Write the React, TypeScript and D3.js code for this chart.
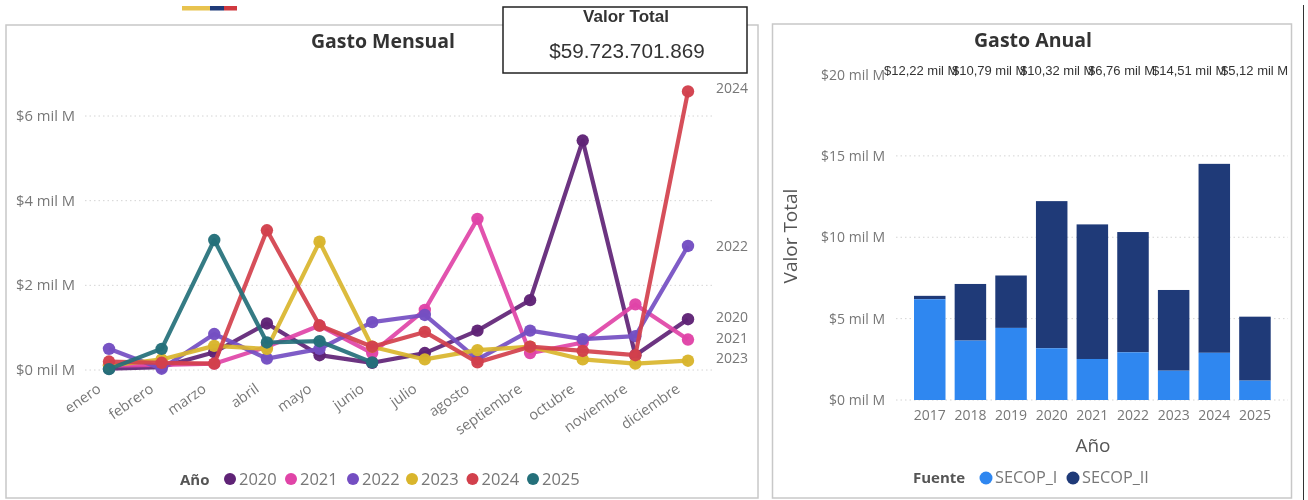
import React from "react";
import * as d3 from "d3";

const months = ["enero","febrero","marzo","abril","mayo","junio","julio","agosto","septiembre","octubre","noviembre","diciembre"];
const lineYears = ["2020","2021","2022","2023","2024","2025"];
const lineColors = ["#5f2376","#e044a7","#744ec2","#d9b52c","#d2404c","#24707a"];
const v2020 = [0.03,0.07,0.42,1.1,0.35,0.17,0.4,0.93,1.65,5.42,0.35,1.2];
const v2021 = [0.1,0.12,0.15,0.55,1.05,0.4,1.42,3.57,0.4,0.65,1.55,0.72];
const v2022 = [0.5,0.03,0.85,0.27,0.5,1.13,1.3,0.25,0.93,0.73,0.8,2.93];
const v2023 = [0.1,0.25,0.57,0.5,3.03,0.55,0.25,0.47,0.55,0.25,0.15,0.22];
const v2024 = [0.2,0.17,0.15,3.3,1.05,0.55,0.9,0.18,0.55,0.45,0.35,6.58];
const v2025 = [0.02,0.5,3.07,0.65,0.68,0.18];
const lineSeries = [v2020,v2021,v2022,v2023,v2024,v2025];
const endLabels = [["2024",88],["2022",246],["2020",317],["2021",338],["2023",358]] as [string,number][];
const lineTicks = [0,2,4,6];

const barYears = ["2017","2018","2019","2020","2021","2022","2023","2024","2025"];
const secop1 = [6.19,3.65,4.43,3.18,2.52,2.93,1.8,2.9,1.19];
const totals = [6.4,7.13,7.65,12.22,10.79,10.32,6.76,14.51,5.12];
const barTicks = [0,5,10,15,20];
const totalLabels = ["$12,22 mil M","$10,79 mil M","$10,32 mil M","$6,76 mil M","$14,51 mil M","$5,12 mil M"];
const totalLabelX = [884,952,1020,1088,1152,1221];

const SANS = "'Open Sans', 'Noto Sans', sans-serif";
const ARIAL = "'Liberation Sans', Arial, sans-serif";
const GREY = "#777";

export default function App() {
  const x = d3.scalePoint<string>().domain(months).range([109, 688]);
  const y = d3.scaleLinear().domain([0, 6]).range([370, 116]);
  const line = d3.line<number>().x((_, i) => x(months[i])!).y(d => y(d));
  const bx = d3.scaleBand<string>().domain(barYears).range([909.53, 1275.17]).paddingInner(0.225).paddingOuter(0.11);
  const by = d3.scaleLinear().domain([0, 20]).range([400, 74.5]);
  const legendX = [230, 291, 353, 412, 472.5, 533];
  return (
    <svg width={1308} height={500} style={{ position: "absolute", left: 0, top: 0, background: "#fff", filter: "blur(0.45px)" }} fontFamily={SANS}>
      <rect x={182} y={6} width={28} height={4.5} fill="#e8c34f" />
      <rect x={210} y={6} width={14} height={4.5} fill="#1f3a78" />
      <rect x={224} y={6} width={13} height={4.5} fill="#d0393f" />

      <rect x={6} y={25} width={752} height={473} fill="#fff" stroke="#c8c8c8" strokeWidth={1.5} />
      <rect x={772.5} y={24} width={519} height={474} fill="#fff" stroke="#c8c8c8" strokeWidth={1.5} />
      <line x1={1303.5} x2={1303.5} y1={5} y2={500} stroke="#333" strokeWidth={1} />

      <text x={383} y={48} textAnchor="middle" fontSize={19} fontWeight={700} fill="#333" textLength={144} lengthAdjust="spacingAndGlyphs">Gasto Mensual</text>
      {lineTicks.map(t => (
        <g key={t}>
          <line x1={85} x2={712} y1={y(t)} y2={y(t)} stroke="#d4d4d4" strokeDasharray="1.5 3" />
          <text x={75} y={y(t) + 5} textAnchor="end" fontSize={14} fill={GREY} textLength={59} lengthAdjust="spacingAndGlyphs">{`$${t} mil M`}</text>
        </g>
      ))}
      {months.map(m => (
        <text key={m} transform={`translate(${x(m)! - 7},${391}) rotate(-35)`} textAnchor="end" fontSize={14.5} fill={GREY}>{m}</text>
      ))}
      {lineSeries.map((vals, k) => (
        <g key={k}>
          <path d={line(vals)!} fill="none" stroke={lineColors[k]} strokeWidth={4.2} strokeLinejoin="round" opacity={0.92} />
          {vals.map((v, i) => (
            <circle key={i} cx={x(months[i])!} cy={y(v)} r={6.2} fill={lineColors[k]} opacity={0.97} />
          ))}
        </g>
      ))}
      {endLabels.map(([t, yy]) => (
        <text key={t} x={716} y={yy + 5} fontSize={14} fill={GREY}>{t}</text>
      ))}
      <text x={180} y={485} fontSize={15} fontWeight={700} fill="#555">Año</text>
      {lineYears.map((t, i) => (
        <g key={t}>
          <circle cx={legendX[i]} cy={479} r={6} fill={lineColors[i]} />
          <text x={legendX[i] + 9} y={485} fontSize={16.5} fill={GREY}>{t}</text>
        </g>
      ))}

      <rect x={503} y={7} width={244} height={66} fill="#fff" stroke="#222" strokeWidth={1.5} />
      <text x={626} y={22} textAnchor="middle" fontSize={17} fontWeight={700} fontFamily={ARIAL} fill="#333" textLength={86} lengthAdjust="spacingAndGlyphs">Valor Total</text>
      <text x={627} y={58} textAnchor="middle" fontSize={20.7} fontFamily={ARIAL} fill="#333">$59.723.701.869</text>

      <text x={1033} y={47} textAnchor="middle" fontSize={19.5} fontWeight={700} fill="#333">Gasto Anual</text>
      {barTicks.map(t => (
        <g key={t}>
          {t !== 20 && <line x1={896} x2={1288} y1={by(t)} y2={by(t)} stroke="#d4d4d4" strokeDasharray="1.5 3" />}
          <text x={885} y={by(t) + 5} textAnchor="end" fontSize={14} fill={GREY}>{`$${t} mil M`}</text>
        </g>
      ))}
      {barYears.map((yr, i) => (
        <g key={yr}>
          <rect x={bx(yr)} width={bx.bandwidth()} y={by(totals[i])} height={by(secop1[i]) - by(totals[i])} fill="#1f3a78" />
          <rect x={bx(yr)} width={bx.bandwidth()} y={by(secop1[i])} height={by(0) - by(secop1[i])} fill="#2f87f0" />
          <text x={bx(yr)! + bx.bandwidth() / 2} y={420} textAnchor="middle" fontSize={14} fill={GREY}>{yr}</text>
        </g>
      ))}
      {totalLabels.map((t, i) => (
        <text key={i} x={totalLabelX[i]} y={75} fontSize={13} fontFamily={ARIAL} fill="#333">{t}</text>
      ))}
      <text transform="translate(797,236) rotate(-90)" textAnchor="middle" fontSize={19} fill="#555">Valor Total</text>
      <text x={1093} y={452} textAnchor="middle" fontSize={19} fill="#555">Año</text>
      <text x={913} y={483} fontSize={15} fontWeight={700} fill="#555">Fuente</text>
      <circle cx={986} cy={478} r={6.5} fill="#2f87f0" />
      <text x={995} y={483} fontSize={16.3} fill={GREY}>SECOP_I</text>
      <circle cx={1073} cy={478} r={6.5} fill="#1f3a78" />
      <text x={1082} y={483} fontSize={16.3} fill={GREY}>SECOP_II</text>
    </svg>
  );
}
